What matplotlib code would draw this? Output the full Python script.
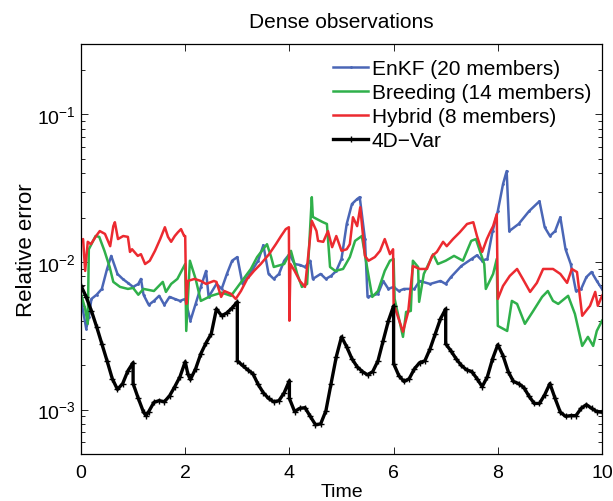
import matplotlib
matplotlib.use("Agg")
import matplotlib.pyplot as plt
from matplotlib.ticker import LogLocator, LogFormatterMathtext, NullFormatter, FixedLocator

plt.rcParams['font.family'] = ['Liberation Sans', 'DejaVu Sans']
plt.rcParams['mathtext.default'] = 'regular'

title = "Dense observations"
xlabel = "Time"
ylabel = "Relative error"
labels = ["EnKF (20 members)", "Breeding (14 members)", "Hybrid (8 members)", "4D\u2212Var"]
xticks = [0, 2, 4, 6, 8, 10]

# EnKF (20 members)
t_enkf = [0.0, 0.1, 0.15, 0.2, 0.3, 0.4, 0.5, 0.58, 0.7, 0.8, 0.9, 1.0, 1.1, 1.15, 1.2, 1.3, 1.4, 1.5,
          1.6, 1.7, 1.8, 1.9, 2.0, 2.1, 2.2, 2.3, 2.4, 2.45, 2.6, 2.7, 2.8, 2.9, 3.0, 3.1, 3.2, 3.3,
          3.4, 3.5, 3.6, 3.7, 3.8, 3.9, 4.0, 4.1, 4.2, 4.3, 4.4, 4.45, 4.6, 4.7, 4.8, 4.9, 5.0, 5.1,
          5.2, 5.3, 5.35, 5.45, 5.5, 5.7, 5.8, 5.9, 6.0, 6.1, 6.2, 6.4, 6.5, 6.7, 6.9, 7.0, 7.1, 7.3,
          7.5, 7.6, 7.7, 7.8, 7.9, 8.0, 8.1, 8.17, 8.22, 8.4, 8.6, 8.8, 8.9, 9.0, 9.1, 9.2, 9.3, 9.4,
          9.5, 9.6, 9.7, 9.8, 9.9, 10.0]
e_enkf = [0.00562, 0.00353, 0.00425, 0.00562, 0.0060, 0.00657, 0.00897, 0.0110, 0.0083, 0.00768,
          0.00722, 0.00678, 0.0071, 0.00768, 0.0060, 0.00512, 0.00545, 0.0059, 0.00512, 0.0058,
          0.00562, 0.00545, 0.00562, 0.0040, 0.0052, 0.00678, 0.0087, 0.0058, 0.0071, 0.00657,
          0.0083, 0.0102, 0.0108, 0.0071, 0.0079, 0.00897, 0.0102, 0.0130, 0.0083, 0.00768, 0.0083,
          0.0102, 0.0113, 0.00969, 0.00955, 0.00925, 0.0102, 0.00768, 0.0083, 0.00768, 0.00805,
          0.0087, 0.0105, 0.0181, 0.0247, 0.0267, 0.0275, 0.0143, 0.0058, 0.00608, 0.00744, 0.00657,
          0.00678, 0.00636, 0.00657, 0.00657, 0.00744, 0.0071, 0.00744, 0.0071, 0.0079, 0.0094,
          0.0105, 0.0111, 0.0102, 0.0105, 0.0162, 0.0221, 0.0337, 0.0413, 0.0162, 0.0181, 0.0221,
          0.0258, 0.0172, 0.0150, 0.0162, 0.0201, 0.0122, 0.00969, 0.00636, 0.00657, 0.0079, 0.00855,
          0.00744, 0.00657]

# Breeding (14 members)
t_breed = [0.0, 0.08, 0.13, 0.15, 0.2, 0.28, 0.35, 0.45, 0.55, 0.62, 0.75, 0.9, 1.0, 1.1, 1.2, 1.4,
           1.57, 1.63, 1.73, 1.85, 1.95, 2.0, 2.02, 2.09, 2.2, 2.3, 2.5, 2.7, 2.88, 3.09, 3.26, 3.38,
           3.57, 3.65, 3.70, 3.90, 4.03, 4.15, 4.24, 4.34, 4.43, 4.45, 4.63, 4.72, 4.78, 4.88, 5.03,
           5.16, 5.26, 5.39, 5.49, 5.59, 5.70, 5.83, 5.93, 6.0, 6.02, 6.18, 6.24, 6.33, 6.37, 6.47,
           6.49, 6.58, 6.76, 6.85, 7.0, 7.16, 7.33, 7.49, 7.58, 7.74, 7.77, 7.91, 7.98, 8.0, 8.18,
           8.27, 8.37, 8.52, 8.68, 8.85, 8.96, 9.06, 9.16, 9.35, 9.48, 9.62, 9.73, 9.83, 9.90, 10.0]
e_breed = [0.00608, 0.00481, 0.00381, 0.0122, 0.0132, 0.0150, 0.0148, 0.0119, 0.00925, 0.00733,
           0.00678, 0.00657, 0.00667, 0.0060, 0.00657, 0.00636, 0.00733, 0.00627, 0.0071, 0.00768,
           0.00897, 0.00969, 0.00341, 0.0102, 0.00768, 0.00545, 0.00590, 0.00620, 0.0059, 0.00744,
           0.00897, 0.0108, 0.0132, 0.0108, 0.00925, 0.00969, 0.0119, 0.0083, 0.00678, 0.0071,
           0.0275, 0.0202, 0.0187, 0.0181, 0.00925, 0.0087, 0.00897, 0.0108, 0.0139, 0.0150, 0.00925,
           0.0058, 0.00636, 0.0087, 0.0102, 0.0105, 0.00562, 0.00311, 0.00459, 0.00466, 0.0102,
           0.00925, 0.00537, 0.0083, 0.0113, 0.00969, 0.0102, 0.0110, 0.0102, 0.0139, 0.0143,
           0.00969, 0.00657, 0.0083, 0.0105, 0.00369, 0.00341, 0.00545, 0.0052, 0.00381, 0.00466,
           0.0058, 0.00636, 0.00545, 0.0052, 0.0059, 0.00445, 0.0027, 0.00311, 0.0027, 0.00341,
           0.0040]

# Hybrid (8 members)
t_hyb = [0.0, 0.04, 0.08, 0.13, 0.19, 0.29, 0.36, 0.46, 0.56, 0.62, 0.65, 0.71, 0.81, 0.9, 0.94,
         0.98, 1.09, 1.15, 1.23, 1.32, 1.42, 1.52, 1.61, 1.67, 1.73, 1.8, 1.86, 1.92, 1.98, 2.0,
         2.02, 2.05, 2.18, 2.3, 2.4, 2.55, 2.6, 2.69, 2.75, 2.88, 2.97, 3.07, 3.19, 3.32, 3.45,
         3.61, 3.74, 3.84, 3.93, 3.99, 4.0, 4.02, 4.1, 4.2, 4.3, 4.43, 4.52, 4.55, 4.65, 4.74,
         4.82, 4.9, 5.0, 5.1, 5.16, 5.22, 5.3, 5.36, 5.45, 5.52, 5.64, 5.74, 5.83, 5.93, 5.99,
         6.0, 6.18, 6.28, 6.37, 6.5, 6.64, 6.74, 6.83, 6.95, 7.02, 7.14, 7.27, 7.41, 7.53, 7.6,
         7.7, 7.79, 7.85, 7.91, 7.98, 8.0, 8.1, 8.23, 8.37, 8.48, 8.62, 8.75, 8.87, 9.06, 9.2,
         9.33, 9.42, 9.52, 9.62, 9.77, 9.87, 9.92, 10.0]
e_hyb = [0.0139, 0.0143, 0.0087, 0.0137, 0.0132, 0.0150, 0.0162, 0.0155, 0.0128, 0.0175, 0.0186,
         0.0143, 0.0150, 0.0148, 0.0117, 0.0122, 0.0110, 0.0113, 0.00969, 0.0102, 0.0119, 0.0143,
         0.0172, 0.0148, 0.0137, 0.0150, 0.0159, 0.0167, 0.0150, 0.0150, 0.0052, 0.00744, 0.00768,
         0.00744, 0.0071, 0.00744, 0.00733, 0.0058, 0.00636, 0.00608, 0.00562, 0.00636, 0.00768,
         0.0087, 0.00969, 0.0113, 0.0132, 0.0150, 0.0167, 0.0172, 0.0040, 0.00969, 0.0087,
         0.00744, 0.00678, 0.0190, 0.0162, 0.0139, 0.0137, 0.0162, 0.0126, 0.0150, 0.0119,
         0.0122, 0.0132, 0.0201, 0.0175, 0.0235, 0.0110, 0.0102, 0.0108, 0.0119, 0.0143, 0.0113,
         0.0122, 0.0052, 0.00337, 0.00459, 0.0094, 0.00897, 0.00897, 0.0110, 0.0117, 0.0137,
         0.0128, 0.0143, 0.0159, 0.0181, 0.0186, 0.0150, 0.0117, 0.0143, 0.0159, 0.0175, 0.0211,
         0.00562, 0.00688, 0.00805, 0.00897, 0.00768, 0.00627, 0.00722, 0.00897, 0.00897,
         0.0083, 0.00722, 0.00897, 0.00855, 0.00432, 0.00505, 0.00627, 0.00505, 0.0059]

# 4D-Var
t_4dvar = [0.0, 0.1, 0.2, 0.3, 0.4, 0.5, 0.6, 0.7, 0.8, 0.9, 1.0, 1.0, 1.1, 1.2, 1.25, 1.3, 1.4, 1.5,
           1.6, 1.7, 1.8, 1.9, 2.0, 2.05, 2.1, 2.2, 2.3, 2.4, 2.5, 2.6, 2.7, 2.8, 2.9, 3.0, 3.0, 3.1,
           3.2, 3.3, 3.4, 3.5, 3.6, 3.7, 3.8, 3.9, 4.0, 4.0, 4.1, 4.2, 4.3, 4.4, 4.5, 4.6, 4.7, 4.8,
           4.9, 5.0, 5.1, 5.2, 5.3, 5.4, 5.5, 5.6, 5.7, 5.8, 5.9, 6.0, 6.0, 6.1, 6.2, 6.3, 6.4, 6.5,
           6.6, 6.7, 6.8, 6.9, 7.0, 7.0, 7.1, 7.2, 7.3, 7.4, 7.5, 7.6, 7.7, 7.8, 7.9, 8.0, 8.1, 8.2,
           8.3, 8.4, 8.5, 8.6, 8.7, 8.8, 8.9, 9.0, 9.1, 9.2, 9.3, 9.4, 9.5, 9.6, 9.7, 9.8, 9.9, 10.0]
e_4dvar = [0.0069, 0.0058, 0.00466, 0.00364, 0.00279, 0.00214, 0.00162, 0.00137, 0.0015, 0.00183,
           0.00208, 0.0015, 0.00119, 0.00096, 0.00091, 0.00097, 0.00112, 0.00115, 0.00113, 0.00124,
           0.00143, 0.00167, 0.00211, 0.00175, 0.0016, 0.00189, 0.00239, 0.00283, 0.00326, 0.00481,
           0.00432, 0.00452, 0.00488, 0.00537, 0.00214, 0.00199, 0.00186, 0.00175, 0.00148, 0.0013,
           0.00119, 0.00113, 0.00115, 0.0013, 0.00157, 0.00119, 0.00097, 0.00102, 0.00103, 0.0009,
           0.00079, 0.0008, 0.00098, 0.0015, 0.00228, 0.00311, 0.00266, 0.00221, 0.00195, 0.00181,
           0.00172, 0.00181, 0.00214, 0.00293, 0.00399, 0.00504, 0.00205, 0.0017, 0.00155, 0.00162,
           0.00189, 0.00208, 0.00214, 0.00258, 0.00326, 0.00412, 0.00481, 0.00279, 0.0025, 0.00221,
           0.00199, 0.00186, 0.00181, 0.00162, 0.00143, 0.00167, 0.00221, 0.00275, 0.00232, 0.00181,
           0.00155, 0.0015, 0.00141, 0.00123, 0.0011, 0.0011, 0.00126, 0.0015, 0.00119, 0.00096,
           0.0009, 0.00091, 0.00091, 0.00102, 0.00108, 0.00102, 0.00097, 0.00096]

c_blue = "#4a66b6"
c_green = "#2fb04a"
c_red = "#ec2a30"

fig = plt.figure(figsize=(6.13, 5.02), dpi=100)
ax = fig.add_axes([81/613, 47/502, 521/613, 410/502])

ax.plot(t_enkf, e_enkf, color=c_blue, lw=1.8, marker='.', ms=2, label=labels[0])
ax.plot(t_breed, e_breed, color=c_green, lw=1.8, label=labels[1])
ax.plot(t_hyb, e_hyb, color=c_red, lw=1.8, label=labels[2])
ax.plot(t_4dvar, e_4dvar, color='black', lw=2.4, marker='+', ms=4, mew=1.0, label=labels[3])

ax.set_yscale('log')
ax.set_xlim(0, 10)
ax.set_ylim(5e-4, 0.3)
ax.xaxis.set_major_locator(FixedLocator(xticks))
ax.yaxis.set_major_locator(LogLocator(base=10, numticks=10))
ax.yaxis.set_minor_locator(LogLocator(base=10, subs=range(2, 10), numticks=10))
ax.yaxis.set_major_formatter(LogFormatterMathtext())
ax.yaxis.set_minor_formatter(NullFormatter())

ax.tick_params(which='both', direction='in', top=True, right=True, width=0.6, colors='black')
ax.tick_params(which='major', length=5, labelsize=14)
ax.tick_params(axis='x', which='major', pad=7)
ax.tick_params(axis='y', which='major', pad=4)
ax.tick_params(which='minor', length=3)
for s in ax.spines.values():
    s.set_linewidth(0.9)

ax.set_title(title, fontsize=15, pad=12)
ax.set_xlabel(xlabel, fontsize=14, labelpad=2)
ax.set_ylabel(ylabel, fontsize=16, labelpad=0)

leg = ax.legend(loc='upper left', bbox_to_anchor=(333/613, (502-60)/502),
                bbox_transform=fig.transFigure, frameon=False, fontsize=15,
                handlelength=1.7, handletextpad=0.15, labelspacing=0.24,
                borderpad=0, borderaxespad=0, numpoints=1)

fig.savefig("out.png", dpi=100)
